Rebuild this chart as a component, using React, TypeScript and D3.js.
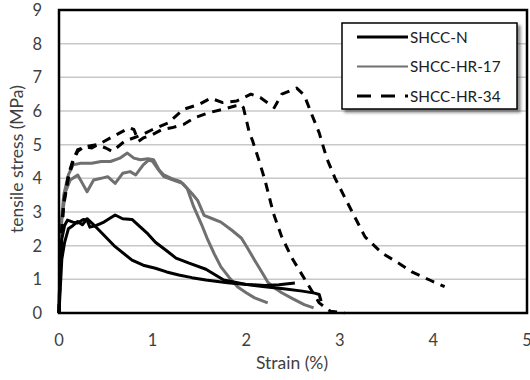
import React from "react";
import * as d3 from "d3";

const xTicks = [0, 1, 2, 3, 4, 5];
const yTicks = [0, 1, 2, 3, 4, 5, 6, 7, 8, 9];
const seriesNames = ["SHCC-N", "SHCC-HR-17", "SHCC-HR-34"];

// [strain %, stress MPa]
const shccN1: [number, number][] = [
  [0, 0], [0.01, 1.4], [0.03, 2.2], [0.06, 2.6], [0.09, 2.76], [0.15, 2.7], [0.2, 2.67], [0.26, 2.78], [0.3, 2.76],
  [0.33, 2.55], [0.4, 2.6], [0.48, 2.7], [0.6, 2.91], [0.68, 2.8], [0.78, 2.78], [0.85, 2.6], [0.95, 2.35],
  [1.03, 2.1], [1.15, 1.85], [1.25, 1.63], [1.39, 1.48], [1.57, 1.3], [1.76, 0.98], [2.0, 0.85], [2.2, 0.78],
  [2.4, 0.72], [2.6, 0.65], [2.73, 0.59], [2.78, 0.55], [2.8, 0.35]
];
const shccN2: [number, number][] = [
  [0, 0], [0.03, 1.6], [0.06, 2.1], [0.1, 2.5], [0.15, 2.6], [0.2, 2.72], [0.25, 2.62], [0.3, 2.8], [0.36, 2.65],
  [0.46, 2.37], [0.6, 1.97], [0.78, 1.57], [0.9, 1.42], [1.03, 1.33], [1.15, 1.22], [1.28, 1.13], [1.42, 1.05],
  [1.57, 0.98], [1.8, 0.9], [2.0, 0.85], [2.2, 0.82], [2.35, 0.84], [2.52, 0.89]
];
const hr17a: [number, number][] = [
  [0, 0], [0.02, 2.5], [0.05, 3.5], [0.1, 4.1], [0.15, 4.4], [0.23, 4.45], [0.35, 4.45], [0.45, 4.5], [0.55, 4.5],
  [0.65, 4.6], [0.73, 4.75], [0.8, 4.6], [0.87, 4.55], [0.95, 4.58], [1.01, 4.55], [1.07, 4.25], [1.12, 4.1],
  [1.2, 4.0], [1.3, 3.9], [1.37, 3.7], [1.44, 3.15], [1.52, 2.65], [1.59, 2.17], [1.66, 1.75], [1.73, 1.37],
  [1.82, 1.05], [1.91, 0.77], [2.0, 0.6], [2.09, 0.45], [2.23, 0.3]
];
const hr17b: [number, number][] = [
  [0, 0], [0.03, 2.8], [0.07, 3.6], [0.12, 3.95], [0.2, 4.1], [0.25, 3.85], [0.3, 3.6], [0.37, 3.95], [0.45, 4.0],
  [0.52, 4.05], [0.6, 3.85], [0.68, 4.15], [0.76, 4.2], [0.82, 4.1], [0.9, 4.4], [0.96, 4.55], [1.0, 4.5],
  [1.05, 4.3], [1.12, 4.05], [1.22, 3.95], [1.32, 3.85], [1.42, 3.55], [1.48, 3.35], [1.55, 2.9], [1.64, 2.8],
  [1.73, 2.7], [1.85, 2.45], [1.95, 2.22], [2.02, 1.9], [2.09, 1.57], [2.16, 1.25], [2.23, 0.92], [2.3, 0.75],
  [2.38, 0.6], [2.5, 0.42], [2.62, 0.25], [2.72, 0.15]
];
const hr34a: [number, number][] = [
  [0, 0], [0.02, 2.0], [0.05, 3.2], [0.1, 4.0], [0.15, 4.5], [0.2, 4.8], [0.27, 4.95], [0.35, 4.9], [0.45, 5.05],
  [0.55, 5.2], [0.65, 5.35], [0.75, 5.5], [0.8, 5.45], [0.85, 5.1], [0.9, 5.2], [1.0, 5.3], [1.1, 5.45],
  [1.2, 5.5], [1.33, 5.6], [1.45, 5.8], [1.6, 5.95], [1.75, 6.05], [1.88, 6.15], [1.95, 6.18], [1.97, 6.1],
  [2.03, 5.4], [2.07, 5.1], [2.14, 4.5], [2.2, 3.95], [2.29, 2.97], [2.38, 2.26], [2.49, 1.63], [2.63, 0.98],
  [2.78, 0.3], [2.9, 0.05], [3.05, 0.0]
];
const hr34b: [number, number][] = [
  [0, 0], [0.02, 2.2], [0.05, 3.3], [0.1, 4.1], [0.15, 4.55], [0.2, 4.85], [0.3, 4.95], [0.4, 5.0], [0.5, 4.9],
  [0.57, 4.8], [0.7, 5.1], [0.89, 5.3], [1.0, 5.45], [1.17, 5.65], [1.33, 6.05], [1.5, 6.2], [1.62, 6.38],
  [1.75, 6.25], [1.9, 6.3], [2.05, 6.5], [2.15, 6.4], [2.3, 6.1], [2.38, 6.5], [2.54, 6.68], [2.62, 6.47],
  [2.7, 5.9], [2.78, 5.35], [2.86, 4.6], [2.95, 4.0], [3.05, 3.45], [3.16, 2.85], [3.27, 2.26], [3.45, 1.78],
  [3.63, 1.48], [3.77, 1.22], [3.96, 0.98], [4.12, 0.78]
];

const BLACK = "#000000";
const GRAY = "#707070";

export default function App() {
  const left = 59, right = 527, top = 10, bottom = 313;
  const x = d3.scaleLinear().domain([0, 5]).range([left, right]);
  const y = d3.scaleLinear().domain([0, 9]).range([bottom, top]);
  const line = d3.line<[number, number]>().x(d => x(d[0])).y(d => y(d[1]));

  const curves = [
    { data: hr17a, color: GRAY, dash: undefined },
    { data: hr17b, color: GRAY, dash: undefined },
    { data: shccN1, color: BLACK, dash: undefined },
    { data: shccN2, color: BLACK, dash: undefined },
    { data: hr34a, color: BLACK, dash: "9,7" },
    { data: hr34b, color: BLACK, dash: "9,7" },
  ];

  const font = "Lato, 'Open Sans', sans-serif";
  const legendRows = [
    { name: seriesNames[0], color: BLACK, dash: undefined, w: 3 },
    { name: seriesNames[1], color: GRAY, dash: undefined, w: 2.2 },
    { name: seriesNames[2], color: BLACK, dash: "14,10", w: 3 },
  ];

  return (
    <svg width={530} height={380} style={{ position: "absolute", left: 0, top: 0, background: "#fff" }}>
      <defs>
        <filter id="sh" x="-10%" y="-10%" width="130%" height="140%">
          <feGaussianBlur in="SourceAlpha" stdDeviation="1.5" />
          <feOffset dx="3" dy="3" result="o" />
          <feComponentTransfer><feFuncA type="linear" slope="0.45" /></feComponentTransfer>
          <feMerge><feMergeNode /><feMergeNode in="SourceGraphic" /></feMerge>
        </filter>
      </defs>
      {yTicks.filter(t => t > 0 && t < 9).map(t => (
        <line key={t} x1={left} x2={right} y1={y(t)} y2={y(t)} stroke="#c8c8c8" strokeWidth={1.5} />
      ))}
      {curves.map((c, i) => (
        <path key={i} d={line(c.data) || ""} fill="none" stroke={c.color} strokeWidth={3}
          strokeDasharray={c.dash} strokeLinejoin="round" />
      ))}
      <rect x={left} y={top} width={right - left} height={bottom - top} fill="none" stroke="#000" strokeWidth={2.5} />
      {yTicks.map(t => (
        <text key={t} x={42} y={y(t)} dy="0.36em" textAnchor="end" fontFamily={font} fontSize={16.5} fill="#404040">{t}</text>
      ))}
      {xTicks.map(t => (
        <text key={t} x={x(t)} y={340} dy="0.36em" textAnchor="middle" fontFamily={font} fontSize={16.5} fill="#404040">{t}</text>
      ))}
      <text x={292} y={363} dy="0.36em" textAnchor="middle" fontFamily={font} fontSize={17.5} fill="#404040">Strain (%)</text>
      <text transform={`translate(17,${(85 + 233) / 2}) rotate(-90)`} dy="0.36em" textAnchor="middle"
        fontFamily={font} fontSize={17.5} fill="#404040">tensile stress (MPa)</text>
      <g filter="url(#sh)">
        <rect x={342} y={23} width={175} height={86} fill="#fff" stroke="#000" strokeWidth={1.5} />
      </g>
      {legendRows.map((r, i) => (
        <g key={r.name}>
          <line x1={357} x2={408} y1={37 + i * 29.5} y2={37 + i * 29.5} stroke={r.color} strokeWidth={r.w} strokeDasharray={r.dash} />
          <text x={410} y={37 + i * 29.5} dy="0.36em" fontFamily={font} fontSize={15.3} fill="#202020">{r.name}</text>
        </g>
      ))}
    </svg>
  );
}
